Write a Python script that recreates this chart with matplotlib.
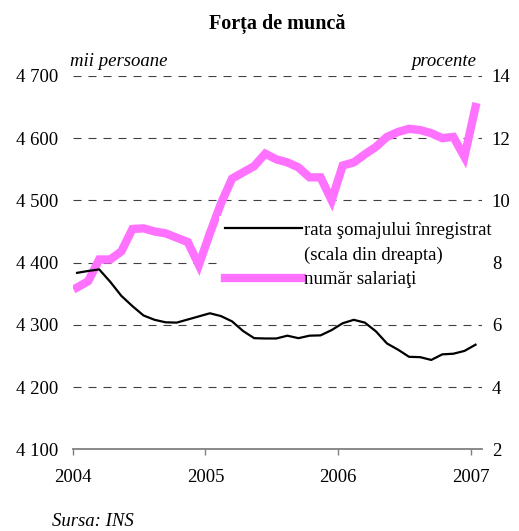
import matplotlib
matplotlib.use("Agg")
import matplotlib.pyplot as plt
from matplotlib.lines import Line2D
import numpy as np

plt.rcParams['font.family'] = ['Liberation Serif', 'DejaVu Serif']

# Monthly data, Jan 2004 .. Jan 2007
salariati = [4360, 4370, 4405, 4405, 4418, 4454, 4455, 4450, 4447, 4440, 4433, 4396,
             4447, 4495, 4535, 4545, 4555, 4575, 4566, 4561, 4553, 4537, 4537, 4500,
             4556, 4561, 4574, 4586, 4602, 4610, 4615, 4613, 4608, 4600, 4602, 4570,
             4650]
somaj = [7.67, 7.73, 7.78, 7.38, 6.93, 6.6, 6.3, 6.16, 6.08, 6.07, 6.17, 6.27,
         6.37, 6.28, 6.11, 5.8, 5.57, 5.56, 5.56, 5.65, 5.57, 5.65, 5.66, 5.83,
         6.05, 6.16, 6.07, 5.79, 5.4, 5.2, 4.97, 4.96, 4.87, 5.05, 5.07, 5.16,
         5.36]
year_labels = ["2004", "2005", "2006", "2007"]
left_ticks = [4100, 4200, 4300, 4400, 4500, 4600, 4700]
left_labels = ["4 100", "4 200", "4 300", "4 400", "4 500", "4 600", "4 700"]
right_ticks = [2, 4, 6, 8, 10, 12, 14]
right_labels = ["2", "4", "6", "8", "10", "12", "14"]

x = np.arange(len(salariati)) + 0.4

fig = plt.figure(figsize=(5.19, 5.31), dpi=100)
ax = fig.add_axes([0.140, 0.154, 0.789, 0.703])
ax2 = ax.twinx()
ax2.set_axisbelow(False)

pink = '#ff72ff'
ax.plot(x, salariati, color=pink, lw=6.0, solid_joinstyle='miter', zorder=3)
ax.set_ylim(4100, 4700)
ax.set_xlim(0, 37)
ax.set_yticks(left_ticks)
ax.set_yticklabels(left_labels)
ax.set_xticks([0, 12, 24, 36])
ax.set_xticklabels(year_labels)
for v in left_ticks[1:]:
    ax.axhline(v, color='#404040', lw=0.8, ls=(0, (7.2, 6.3)), zorder=1)

ax2.plot(x, somaj, color='black', lw=1.6, zorder=3)
ax2.set_ylim(2, 14)
ax2.set_yticks(right_ticks)
ax2.set_yticklabels(right_labels)

for a in (ax, ax2):
    for s in ('top', 'left', 'right'):
        a.spines[s].set_visible(False)
    a.spines['bottom'].set_color('#808080')
    a.spines['bottom'].set_linewidth(1.3)
ax2.spines['bottom'].set_visible(False)

ax.tick_params(axis='y', length=0, pad=10.5, labelsize=13.5)
ax2.tick_params(axis='y', length=0, pad=7, labelsize=13.5)
ax.tick_params(axis='x', length=4, width=1.0, color='#808080', direction='out',
               pad=10, labelsize=13.5)

handles = [Line2D([], [], color='black', lw=1.6),
           Line2D([], [], color='none', lw=0),
           Line2D([], [], color=pink, lw=6.0)]
labels = ["rata şomajului înregistrat", "(scala din dreapta)", "număr salariaţi"]
leg = ax2.legend(handles, labels, loc='center left',
                 bbox_to_anchor=(219.0 / 519, 1 - 255 / 531),
                 bbox_transform=fig.transFigure, frameon=True, fontsize=13.5,
                 handlelength=4.1, handletextpad=0.15, labelspacing=0.4,
                 borderpad=0.3, borderaxespad=0, fancybox=False)
leg.get_frame().set_facecolor('white')
leg.get_frame().set_edgecolor('none')
leg.get_frame().set_alpha(1)
leg.set_zorder(2)

fig.text(277 / 519, 1 - 24 / 531, "Forța de muncă", ha='center', va='center',
         fontsize=14.5, fontweight='bold')
fig.text(70 / 519, 1 - 61 / 531, "mii persoane", ha='left', va='center',
         fontsize=13.5, style='italic')
fig.text(476 / 519, 1 - 61 / 531, "procente", ha='right', va='center',
         fontsize=13.5, style='italic')
fig.text(52 / 519, 1 - 522 / 531, "Sursa: INS", ha='left', va='center',
         fontsize=13.5, style='italic')

fig.savefig("out.png", dpi=100)
